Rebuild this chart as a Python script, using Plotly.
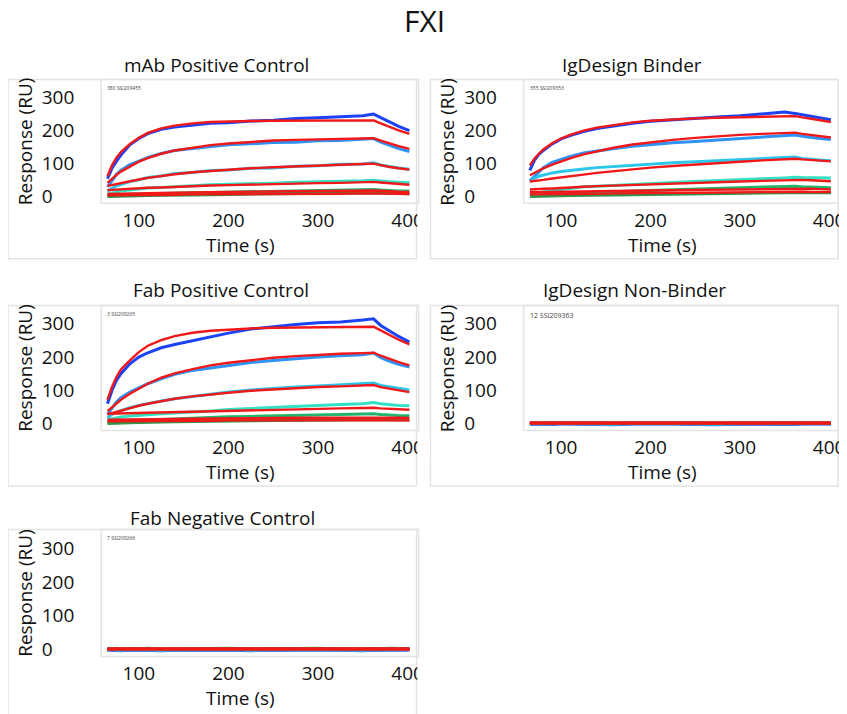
import plotly.graph_objects as go

# page body has an 8px margin; the figure fills the rest of the 847x714 window
OFF = 8
W, H = 847 - OFF, 714 - OFF
FONT = "Open Sans"

TIME = [65, 70, 75, 80, 90, 100, 110, 125, 140, 160, 180, 200, 225, 250, 275, 300, 325, 350, 362, 370, 380, 390, 402]
FLAT_FIT_TIME = [65, 402]

X_TICKS = [100, 200, 300, 400]
Y_TICKS = [0, 100, 200, 300]

DATA_COLORS = ["#1c42f5", "#2f93f5", "#2cc6ea", "#34e0c4", "#22b46c", "#2e9447"]
FIT_COLOR = "#f01818"

# ---- mAb Positive Control ----
mab_data_1 = [55, 86, 107, 126, 157, 176, 191, 204, 211, 217, 222, 224, 229, 231, 237, 239, 243, 245, 250, 239, 226, 213, 200]
mab_data_2 = [30, 49, 67, 80, 97, 108, 119, 131, 140, 146, 152, 157, 160, 164, 165, 169, 170, 174, 176, 165, 155, 146, 137]
mab_data_3 = [17, 25, 33, 37, 46, 51, 58, 63, 70, 73, 79, 81, 86, 87, 92, 94, 98, 99, 103, 96, 91, 87, 83]
mab_data_4 = [8, 11, 14, 17, 20, 23, 26, 28, 31, 33, 36, 37, 39, 41, 44, 45, 47, 48, 50, 47, 45, 44, 43]
mab_data_5 = [4, 5, 5, 6, 8, 8, 9, 10, 11, 12, 13, 14, 15, 16, 17, 18, 19, 20, 22, 20, 18, 17, 17]
mab_data_6 = [1, 1, 2, 2, 3, 3, 4, 4, 5, 6, 6, 7, 8, 9, 9, 10, 11, 12, 12, 11, 10, 10, 9]
mab_fit_1 = [62, 95, 118, 135, 160, 178, 193, 207, 215, 222, 226, 228, 229, 230, 230, 231, 231, 231, 231, 222, 211, 201, 190]
mab_fit_2 = [42, 55, 66, 76, 92, 106, 117, 130, 140, 149, 156, 161, 166, 170, 172, 174, 175, 176, 177, 170, 161, 153, 145]
mab_fit_3 = [33, 36, 39, 42, 47, 52, 57, 63, 68, 74, 78, 82, 86, 89, 92, 95, 97, 99, 100, 95, 90, 86, 82]
mab_fit_4 = [20, 21, 22, 23, 24, 25, 27, 28, 30, 32, 34, 35, 37, 38, 40, 41, 42, 44, 45, 43, 41, 38, 36]
mab_fit_5 = [8, 8, 9, 9, 10, 10, 11, 11, 12, 13, 14, 14, 15, 16, 17, 18, 18, 19, 19, 18, 16, 15, 14]
mab_fit_6 = [4, 4, 4, 4, 5, 5, 5, 6, 6, 7, 7, 7, 8, 8, 9, 9, 9, 10, 10, 9, 9, 8, 8]

# ---- IgDesign Binder ----
igb_data_1 = [80, 110, 128, 140, 160, 175, 185, 197, 206, 215, 222, 228, 233, 237, 241, 245, 251, 256, 252, 248, 243, 238, 233]
igb_data_2 = [48, 62, 75, 88, 104, 114, 122, 132, 139, 146, 153, 158, 163, 167, 171, 175, 179, 185, 187, 183, 179, 176, 173]
igb_data_3 = [45, 55, 62, 66, 72, 76, 80, 84, 88, 92, 96, 99, 103, 106, 109, 112, 115, 119, 120, 116, 113, 111, 109]
igb_data_4 = [6, 9, 12, 14, 18, 22, 25, 30, 32, 35, 38, 40, 43, 46, 48, 51, 54, 57, 59, 58, 58, 57, 57]
igb_data_5 = [3, 4, 5, 5, 7, 8, 10, 12, 13, 15, 17, 19, 21, 23, 25, 27, 29, 31, 32, 30, 29, 28, 27]
igb_data_6 = [1, 1, 1, 2, 2, 3, 4, 4, 5, 6, 6, 7, 8, 9, 10, 11, 12, 13, 14, 13, 13, 12, 12]
igb_fit_1 = [95, 115, 130, 143, 162, 176, 187, 200, 209, 218, 225, 230, 234, 237, 239, 241, 242, 243, 244, 240, 236, 231, 226]
igb_fit_2 = [65, 72, 80, 86, 97, 107, 116, 128, 138, 149, 158, 165, 172, 178, 183, 187, 190, 193, 194, 190, 186, 183, 179]
igb_fit_3 = [46, 47, 49, 51, 55, 59, 62, 67, 72, 78, 84, 88, 93, 98, 102, 106, 110, 113, 115, 113, 111, 109, 107]
igb_fit_4 = [22, 22, 23, 24, 25, 27, 28, 30, 32, 34, 36, 37, 40, 41, 44, 46, 48, 50, 52, 51, 50, 48, 47]
igb_fit_5 = [14, 14, 14, 14, 15, 15, 16, 16, 17, 17, 18, 19, 20, 21, 22, 22, 23, 24, 25, 24, 24, 23, 22]
igb_fit_6 = [7, 7, 7, 8, 8, 8, 9, 9, 9, 10, 11, 11, 12, 12, 13, 13, 14, 14, 15, 15, 14, 14, 14]

# ---- Fab Positive Control ----
fpc_data_1 = [60, 100, 130, 150, 180, 200, 213, 228, 238, 250, 262, 272, 284, 292, 298, 303, 305, 311, 315, 295, 278, 262, 245]
fpc_data_2 = [28, 48, 65, 78, 95, 108, 120, 135, 148, 160, 168, 176, 184, 190, 196, 200, 204, 207, 212, 198, 187, 178, 170]
fpc_data_3 = [18, 28, 35, 40, 48, 55, 61, 68, 75, 82, 89, 95, 101, 106, 110, 113, 116, 119, 122, 115, 110, 105, 101]
fpc_data_4 = [12, 15, 18, 20, 23, 26, 27, 30, 32, 35, 38, 43, 46, 50, 54, 57, 58, 60, 64, 60, 57, 55, 54]
fpc_data_5 = [4, 5, 6, 7, 9, 10, 11, 13, 15, 17, 19, 21, 22, 24, 25, 27, 28, 29, 30, 28, 26, 25, 24]
fpc_data_6 = [1, 1, 2, 2, 3, 4, 4, 5, 6, 7, 7, 8, 9, 10, 11, 11, 12, 13, 14, 13, 12, 11, 11]
fpc_fit_1 = [72, 110, 140, 163, 190, 215, 234, 251, 263, 273, 279, 283, 286, 288, 289, 290, 290, 291, 291, 280, 266, 252, 238]
fpc_fit_2 = [38, 50, 62, 72, 90, 106, 120, 138, 151, 164, 175, 183, 191, 198, 203, 207, 210, 212, 213, 204, 194, 185, 175]
fpc_fit_3 = [28, 32, 36, 40, 47, 54, 60, 68, 75, 82, 88, 93, 99, 103, 107, 110, 112, 114, 116, 110, 105, 100, 95]
fpc_fit_4 = [30, 30, 31, 31, 32, 32, 33, 34, 35, 37, 38, 39, 41, 42, 44, 45, 46, 47, 48, 46, 45, 43, 42]
fpc_fit_5 = [12, 12, 12, 12, 13, 13, 13, 14, 14, 15, 15, 16, 17, 17, 18, 18, 19, 19, 20, 19, 18, 18, 17]
fpc_fit_6 = [7, 7, 7, 7, 8, 8, 8, 8, 9, 9, 9, 10, 10, 10, 11, 11, 11, 11, 11, 11, 11, 10, 10]

# ---- IgDesign Non-Binder ----
ignb_data_1 = [-2, -1, -3, -1, -2, 0, -1, -2, -1, -3, -1, -2, -1, -2, -3, -1, -2, -1, -2, -1, -2, -1, -1]
ignb_data_2 = [-1, 0, -2, 0, -1, 1, 0, -1, 0, -2, 0, -1, 0, -1, -2, 0, -1, 0, -1, 0, -1, 0, 0]
ignb_data_3 = [0, 1, -1, 1, 0, 2, 1, 0, 1, -1, 1, 0, 1, 0, -1, 1, 0, 1, 0, 1, 0, 1, 1]
ignb_data_4 = [1, 2, 0, 2, 1, 3, 2, 1, 2, 0, 2, 1, 2, 1, 0, 2, 1, 2, 1, 2, 1, 2, 2]
ignb_data_5 = [2, 3, 1, 3, 2, 4, 3, 2, 4, 1, 3, 2, 4, 2, 1, 3, 2, 4, 3, 3, 2, 3, 3]
ignb_data_6 = [2, 2, 2, 3, 2, 3, 3, 2, 3, 2, 3, 2, 3, 2, 2, 3, 2, 3, 3, 3, 2, 3, 3]
ignb_fit_1 = [1, 1]
ignb_fit_2 = [1.5, 1.5]
ignb_fit_3 = [2, 2]
ignb_fit_4 = [2, 2]
ignb_fit_5 = [2.5, 2.5]
ignb_fit_6 = [3, 3]

# ---- Fab Negative Control ----
fnc_data_1 = [-1, -2, -1, -3, -1, -2, -1, -3, -2, -1, -2, -1, -3, -1, -2, -1, -2, -3, -1, -2, -1, -2, -1]
fnc_data_2 = [0, -1, 0, -2, 0, -1, 0, -2, -1, 0, -1, 0, -2, 0, -1, 0, -1, -2, 0, -1, 0, -1, 0]
fnc_data_3 = [1, 0, 1, -1, 1, 0, 1, -1, 0, 1, 0, 1, -1, 1, 0, 1, 0, -1, 1, 0, 1, 0, 1]
fnc_data_4 = [2, 1, 2, 0, 2, 1, 2, 0, 1, 2, 1, 2, 0, 2, 1, 2, 1, 0, 2, 1, 2, 1, 2]
fnc_data_5 = [3, 2, 4, 2, 3, 2, 4, 1, 2, 3, 2, 4, 2, 3, 2, 4, 2, 1, 3, 2, 4, 3, 3]
fnc_data_6 = [3, 2, 3, 2, 3, 2, 3, 2, 2, 3, 2, 3, 2, 3, 2, 3, 3, 2, 3, 2, 3, 3, 3]
fnc_fit_1 = [1, 1]
fnc_fit_2 = [1.5, 1.5]
fnc_fit_3 = [2, 2]
fnc_fit_4 = [2, 2]
fnc_fit_5 = [2.5, 2.5]
fnc_fit_6 = [3, 3]

PANEL_TITLES = ["mAb Positive Control", "IgDesign Binder", "Fab Positive Control",
                "IgDesign Non-Binder", "Fab Negative Control"]
PANEL_TAGS = ["380 SSI209455", "355 SSI209353", "3 SSI209265", "12 SSI209363", "7 SSI209266"]

# layout geometry in window pixels (inner plot box, outer frame, title centre)
panels = [
    dict(data=[mab_data_1, mab_data_2, mab_data_3, mab_data_4, mab_data_5, mab_data_6],
         fit=[mab_fit_1, mab_fit_2, mab_fit_3, mab_fit_4, mab_fit_5, mab_fit_6], fit_t=TIME,
         box=(102, 420, 80, 205), outer=(8, 420, 80, 261), tpos=(218, 65), tagsize=5, clip=True),
    dict(data=[igb_data_1, igb_data_2, igb_data_3, igb_data_4, igb_data_5, igb_data_6],
         fit=[igb_fit_1, igb_fit_2, igb_fit_3, igb_fit_4, igb_fit_5, igb_fit_6], fit_t=TIME,
         box=(528, 845, 80, 205), outer=(434, 845, 80, 261), tpos=(637, 65), tagsize=5, clip=False),
    dict(data=[fpc_data_1, fpc_data_2, fpc_data_3, fpc_data_4, fpc_data_5, fpc_data_6],
         fit=[fpc_fit_1, fpc_fit_2, fpc_fit_3, fpc_fit_4, fpc_fit_5, fpc_fit_6], fit_t=TIME,
         box=(102, 420, 308, 434), outer=(8, 420, 308, 490), tpos=(223, 292), tagsize=5, clip=True),
    dict(data=[ignb_data_1, ignb_data_2, ignb_data_3, ignb_data_4, ignb_data_5, ignb_data_6],
         fit=[ignb_fit_1, ignb_fit_2, ignb_fit_3, ignb_fit_4, ignb_fit_5, ignb_fit_6], fit_t=FLAT_FIT_TIME,
         box=(528, 845, 308, 434), outer=(434, 845, 308, 490), tpos=(640, 292), tagsize=7, clip=False),
    dict(data=[fnc_data_1, fnc_data_2, fnc_data_3, fnc_data_4, fnc_data_5, fnc_data_6],
         fit=[fnc_fit_1, fnc_fit_2, fnc_fit_3, fnc_fit_4, fnc_fit_5, fnc_fit_6], fit_t=FLAT_FIT_TIME,
         box=(102, 420, 534, 662), outer=(8, 420, 534, 730), tpos=(224, 522), tagsize=5, clip=True),
]


def fx(p):
    return (p - OFF) / W


def fy(p):
    return 1 - (p - OFF) / H


fig = go.Figure()
shapes = []
annotations = []
layout_axes = {}

for i, p in enumerate(panels):
    n = i + 1
    xa = "x" if n == 1 else f"x{n}"
    ya = "y" if n == 1 else f"y{n}"
    xkey = "xaxis" if n == 1 else f"xaxis{n}"
    ykey = "yaxis" if n == 1 else f"yaxis{n}"
    x0, x1, y0, y1 = p["box"]
    for vals, col in zip(p["data"], DATA_COLORS):
        fig.add_trace(go.Scatter(x=TIME, y=vals, mode="lines", xaxis=xa, yaxis=ya,
                                 line=dict(color=col, width=3), showlegend=False, hoverinfo="skip"))
    for vals in p["fit"]:
        fig.add_trace(go.Scatter(x=p["fit_t"], y=vals, mode="lines", xaxis=xa, yaxis=ya,
                                 line=dict(color=FIT_COLOR, width=2.4), showlegend=False, hoverinfo="skip"))

    layout_axes[xkey] = dict(domain=[fx(x0), fx(x1)], range=[58, 410], anchor=ya,
                             tickvals=X_TICKS, showgrid=False, zeroline=False, showline=False,
                             ticks="", tickfont=dict(size=19, color="#111", family=FONT),
                             ticklabelstandoff=4)
    layout_axes[ykey] = dict(domain=[fy(y1), fy(y0)], range=[-20, 355], anchor="free",
                             position=fx(x0 - 61), side="right",
                             tickvals=Y_TICKS, showgrid=False, zeroline=False, showline=False,
                             ticks="", tickfont=dict(size=19, color="#111", family=FONT))

    # inner plot frame
    shapes.append(dict(type="rect", xref="paper", yref="paper", x0=fx(x0), x1=fx(x1 + 2),
                       y0=fy(y1), y1=fy(y0), line=dict(color="#e4e4e4", width=1.5), layer="below"))
    # outer frame
    ox0, ox1, oy0, oy1 = p["outer"]
    shapes.append(dict(type="rect", xref="paper", yref="paper", x0=fx(ox0), x1=fx(ox1),
                       y0=fy(oy1), y1=fy(oy0), line=dict(color="#e4e4e4", width=1.5), layer="below"))
    # the source images were cropped at the frame edge: mask the overflow of the last tick label
    if p["clip"]:
        shapes.append(dict(type="rect", xref="paper", yref="paper", x0=fx(ox1 + 0.9), x1=fx(ox1 + 13),
                           y0=fy(y1 + 30), y1=fy(y1 + 4), line=dict(width=0),
                           fillcolor="white", layer="above"))

    # panel title
    annotations.append(dict(text=PANEL_TITLES[i], xref="paper", yref="paper", x=fx(p["tpos"][0]),
                            y=fy(p["tpos"][1]), xanchor="center", yanchor="middle", showarrow=False,
                            font=dict(size=19, color="#111", family=FONT)))
    # axis titles
    annotations.append(dict(text="Response (RU)", xref="paper", yref="paper", x=fx(x0 - 77),
                            y=fy((y0 + y1) / 2), xanchor="center", yanchor="middle", textangle=-90,
                            showarrow=False, font=dict(size=19, color="#111", family=FONT)))
    annotations.append(dict(text="Time (s)", xref="paper", yref="paper", x=fx(x0 + 140),
                            y=fy(y1 + 42), xanchor="center", yanchor="middle", showarrow=False,
                            font=dict(size=19, color="#111", family=FONT)))
    # small instrument tag
    annotations.append(dict(text=PANEL_TAGS[i], xref="paper", yref="paper", x=fx(x0 + 4),
                            y=fy(y0 + 4), xanchor="left", yanchor="top", showarrow=False,
                            font=dict(size=p["tagsize"], color="#444", family=FONT)))

annotations.append(dict(text="FXI", xref="paper", yref="paper", x=fx(428), y=fy(21),
                        xanchor="center", yanchor="middle", showarrow=False,
                        font=dict(size=30, color="#111", family=FONT)))

fig.update_layout(width=W, height=H, margin=dict(l=0, r=0, t=0, b=0),
                  paper_bgcolor="white", plot_bgcolor="white",
                  shapes=shapes, annotations=annotations, showlegend=False, **layout_axes)

fig.write_html("out.html")
